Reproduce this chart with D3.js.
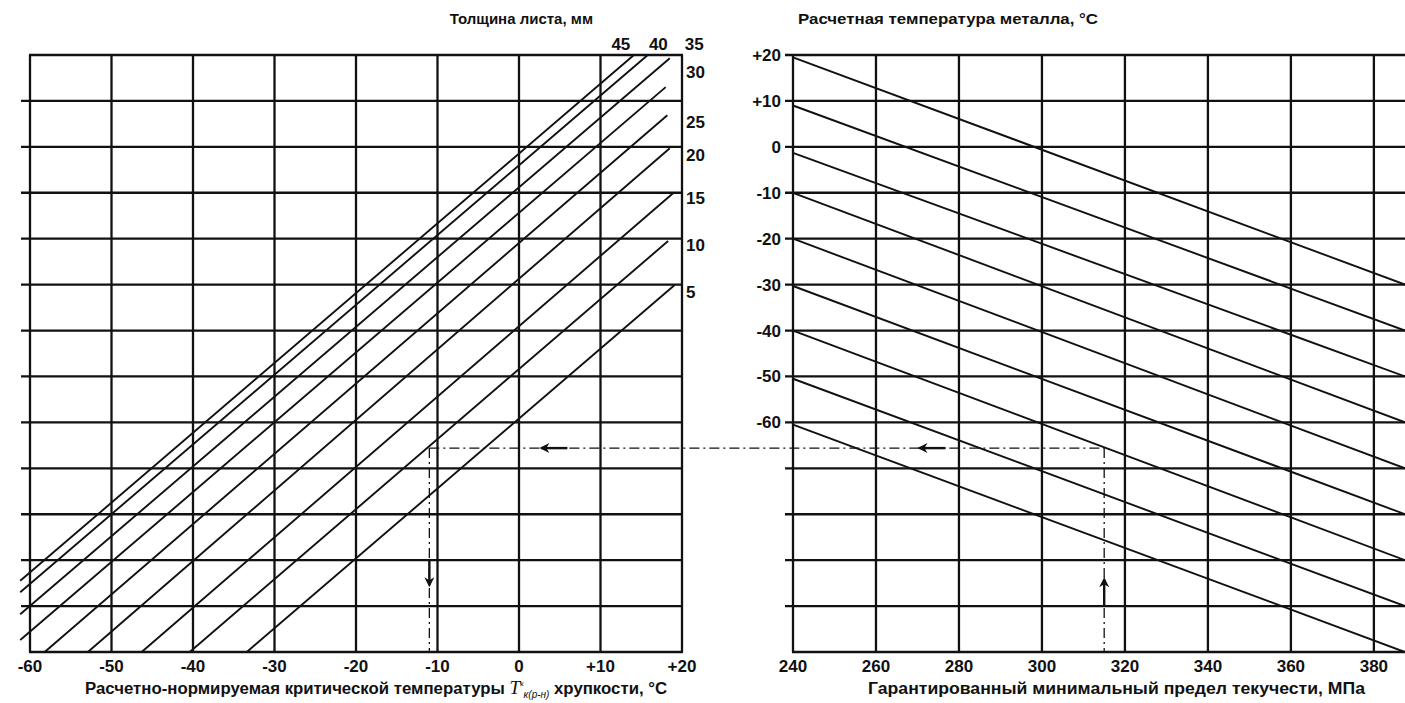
<!DOCTYPE html>
<html><head><meta charset="utf-8">
<script src="https://cdn.jsdelivr.net/npm/d3@7"></script>
<style>
body{margin:0;background:#fff}
text{font-family:"Liberation Sans",Arial,sans-serif;font-weight:bold;fill:#111}
</style>
</head><body>
<svg id="c" width="1405" height="703"></svg>
<script>
// ---------- data ----------
const critTicks = [-60,-50,-40,-30,-20,-10,0,10,20];
const critTickLabels = ["-60","-50","-40","-30","-20","-10","0","+10","+20"];
const tempRows = [20,10,0,-10,-20,-30,-40,-50,-60,-70,-80,-90,-100,-110];
const tempTickValues = [20,10,0,-10,-20,-30,-40,-50,-60];
const tempTickLabels = ["+20","+10","0","-10","-20","-30","-40","-50","-60"];
const yieldTicks = [240,260,280,300,320,340,360,380];
const yieldTickLabels = ["240","260","280","300","320","340","360","380"];

// thickness lines (left panel): critical temperature (x) vs design temperature (y)
const thickness = [45,40,35,30,25,20,15,10,5];
const thickX1 = [-61.2,-61.2,-61.2,-61.2,-58.2,-52.9,-46.3,-40.4,-33.4];
const thickY1 = [-94.5,-97,-101.8,-107.4,-110,-110,-110,-110,-110];
const thickX2 = [14.1,15.8,18.5,18.0,18.2,18.5,18.9,18.3,19.1];
const thickY2 = [20,20,19.3,13.0,6.9,-0.3,-10.1,-20.5,-30.1];
// label anchors for thickness lines
const topLabelThick = [45,40,35];
const topLabelCrit = [12.5,17.1,21.5];
const sideLabelThick = [30,25,20,15,10,5];
const sideLabelTemp = [16.3,5.4,-1.8,-11.2,-21.4,-31.6];

// yield lines (right panel): design temperature at 240 MPa and at 387.5 MPa
const yieldLineStart = [19.5,9,-1.3,-10,-20,-30.3,-40,-50.5,-60.5];
const yieldLineEnd = [-30,-40,-50,-60,-70,-80,-90,-100,-110];
const yieldDomainMax = 387.5;

// worked example
const exampleYield = 315;
const exampleTemp = -65.6;
const exampleCrit = -11;
const arrowLeftCrit = 2.5;
const arrowRightYield = 270;
const arrowDownTemp = -95.9;
const arrowUpTemp = -93.7;

// ---------- scales ----------
const svg = d3.select("#c");
const xL = d3.scaleLinear().domain([-60,20]).range([30,682]);
const y  = d3.scaleLinear().domain([20,-110]).range([55,652]);
const xR = d3.scaleLinear().domain([240,yieldDomainMax]).range([793,1405]);

const ink = "#111";
const gw = 2.3;

// ---------- left panel grid ----------
const gL = svg.append("g");
gL.selectAll("line.v").data(critTicks).join("line")
  .attr("x1",d=>xL(d)).attr("x2",d=>xL(d))
  .attr("y1",y(20)).attr("y2",y(-110))
  .attr("stroke",ink).attr("stroke-width",gw);
gL.selectAll("line.h").data(tempRows).join("line")
  .attr("x1",(d,i)=> (i===0||i===tempRows.length-1)? xL(-60)-1 : xL(-60)-9)
  .attr("x2",xL(20)+1)
  .attr("y1",d=>y(d)).attr("y2",d=>y(d))
  .attr("stroke",ink).attr("stroke-width",gw);

gL.selectAll("line.t").data(thickness).join("line")
  .attr("x1",(d,i)=>xL(thickX1[i])).attr("y1",(d,i)=>y(thickY1[i]))
  .attr("x2",(d,i)=>xL(thickX2[i])).attr("y2",(d,i)=>y(thickY2[i]))
  .attr("stroke",ink).attr("stroke-width",1.9);

gL.selectAll("text.xt").data(critTicks).join("text")
  .attr("x",d=>xL(d)).attr("y",672).attr("text-anchor","middle")
  .attr("font-size",17).text((d,i)=>critTickLabels[i]);

gL.selectAll("text.tt").data(topLabelThick).join("text")
  .attr("x",(d,i)=>xL(topLabelCrit[i])).attr("y",50).attr("text-anchor","middle")
  .attr("font-size",17).text(d=>d);
gL.selectAll("text.st").data(sideLabelThick).join("text")
  .attr("x",xL(20)+4).attr("y",(d,i)=>y(sideLabelTemp[i])+6)
  .attr("font-size",17).text(d=>d);

svg.append("text").attr("x",593).attr("y",24).attr("text-anchor","end")
  .attr("font-size",15).text("Толщина листа, мм");
const bt = svg.append("text").attr("x",85).attr("y",694).attr("font-size",16.8);
bt.append("tspan").text("Расчетно-нормируемая критической температуры ");
bt.append("tspan").attr("font-family","Liberation Serif, serif").attr("font-style","italic")
  .attr("font-weight","normal").attr("font-size",19).text("T");
bt.append("tspan").attr("font-size",8).attr("dy",-8).attr("font-weight","normal").text("к");
bt.append("tspan").attr("font-size",10).attr("dy",12).attr("font-style","italic").attr("font-weight","normal").text("к(р-н)");
bt.append("tspan").attr("dy",-4).text(" хрупкости, °C");

// ---------- right panel grid ----------
const gR = svg.append("g");
gR.selectAll("line.v").data(yieldTicks).join("line")
  .attr("x1",d=>xR(d)).attr("x2",d=>xR(d))
  .attr("y1",y(20)).attr("y2",y(-110))
  .attr("stroke",ink).attr("stroke-width",gw);
gR.selectAll("line.h").data(tempRows).join("line")
  .attr("x1",(d,i)=> i===tempRows.length-1 ? xR(240)-1 : xR(240)-8)
  .attr("x2",1405)
  .attr("y1",d=>y(d)).attr("y2",d=>y(d))
  .attr("stroke",ink).attr("stroke-width",gw);

gR.selectAll("line.y").data(yieldLineStart).join("line")
  .attr("x1",xR(240)).attr("y1",d=>y(d))
  .attr("x2",xR(yieldDomainMax)).attr("y2",(d,i)=>y(yieldLineEnd[i]))
  .attr("stroke",ink).attr("stroke-width",1.9);

gR.selectAll("text.xt").data(yieldTicks).join("text")
  .attr("x",d=>xR(d)).attr("y",672).attr("text-anchor","middle")
  .attr("font-size",17).text((d,i)=>yieldTickLabels[i]);
gR.selectAll("text.yt").data(tempTickValues).join("text")
  .attr("x",781).attr("y",d=>y(d)+6).attr("text-anchor","end")
  .attr("font-size",17).text((d,i)=>tempTickLabels[i]);

svg.append("text").attr("x",798).attr("y",24).attr("font-size",15)
  .attr("textLength",300).attr("lengthAdjust","spacingAndGlyphs")
  .text("Расчетная температура металла, °C");
svg.append("text").attr("x",868).attr("y",694).attr("font-size",16.5)
  .attr("textLength",497).attr("lengthAdjust","spacingAndGlyphs")
  .text("Гарантированный минимальный предел текучести, МПа");

// ---------- worked example ----------
const dash = "10,4,2,4";
svg.append("line").attr("x1",xL(exampleCrit)).attr("x2",xR(exampleYield))
  .attr("y1",y(exampleTemp)).attr("y2",y(exampleTemp))
  .attr("stroke",ink).attr("stroke-width",1.3).attr("stroke-dasharray",dash);
svg.append("line").attr("x1",xL(exampleCrit)).attr("x2",xL(exampleCrit))
  .attr("y1",y(exampleTemp)).attr("y2",y(-110))
  .attr("stroke",ink).attr("stroke-width",1.3).attr("stroke-dasharray",dash);
svg.append("line").attr("x1",xR(exampleYield)).attr("x2",xR(exampleYield))
  .attr("y1",y(exampleTemp)).attr("y2",y(-110))
  .attr("stroke",ink).attr("stroke-width",1.3).attr("stroke-dasharray",dash);

function arrow(x,yy,dir){
  const g = svg.append("g").attr("transform",`translate(${x},${yy})`);
  let rot = dir==="left"?0:(dir==="down"?-90:90);
  const a = g.append("g").attr("transform",`rotate(${rot})`);
  a.append("line").attr("x1",2).attr("x2",28).attr("y1",0).attr("y2",0)
    .attr("stroke",ink).attr("stroke-width",2.4);
  a.append("path").attr("d","M0,0 L10,-5 L7,0 L10,5 Z").attr("fill",ink);
}
arrow(xL(arrowLeftCrit),y(exampleTemp),"left");
arrow(xR(arrowRightYield),y(exampleTemp),"left");
arrow(xL(exampleCrit),y(arrowDownTemp),"down");
arrow(xR(exampleYield),y(arrowUpTemp),"up");
</script>
</body></html>
